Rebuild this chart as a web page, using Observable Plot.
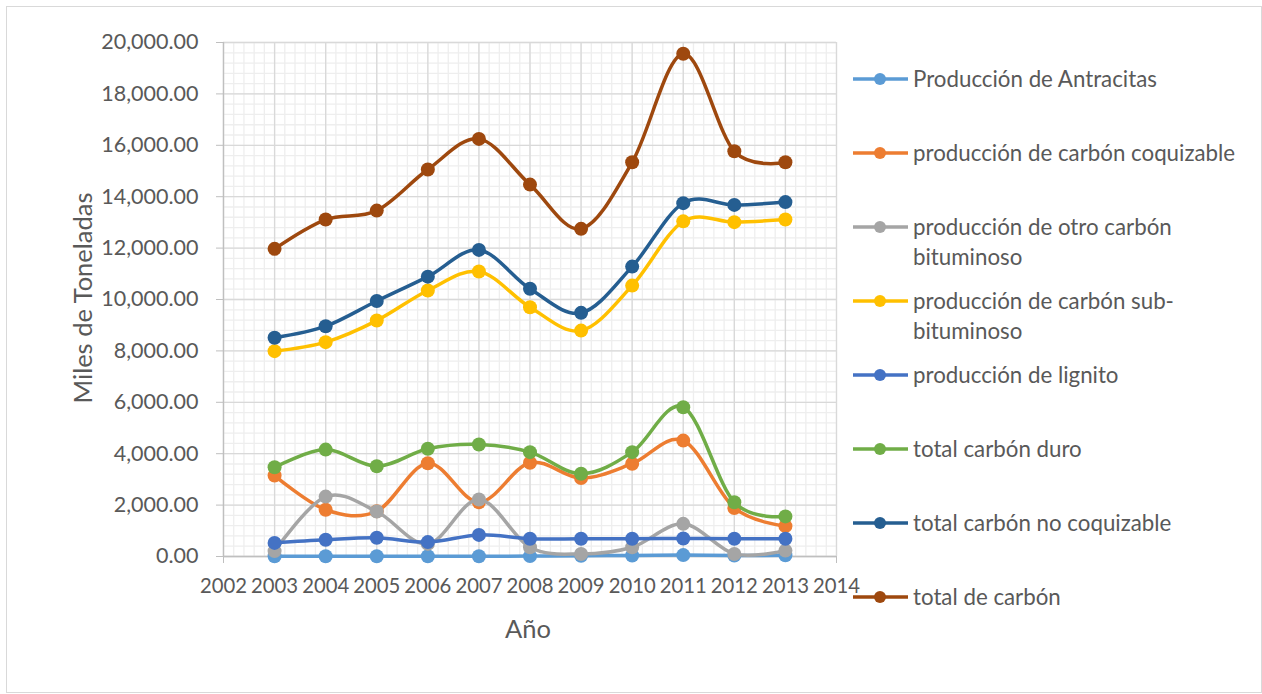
<!DOCTYPE html>
<html>
<head>
<meta charset="utf-8">
<script src="https://cdn.jsdelivr.net/npm/d3@7"></script>
<script src="https://cdn.jsdelivr.net/npm/@observablehq/plot@0.6"></script>
<style>
  html, body { margin: 0; padding: 0; background: #fff; }
  #wrap { position: relative; width: 1262px; height: 694px; font-family: Lato, "Open Sans", sans-serif; color: #595959; }
  #frame { position: absolute; left: 6px; top: 6px; width: 1256px; height: 687px; border: 1px solid #d9d9d9; box-sizing: border-box; pointer-events: none; }
  #chart { position: absolute; left: 0; top: 0; }
  .ytitle { position: absolute; left: 82px; top: 298px; transform: translate(-50%, -50%) rotate(-90deg); font-size: 25.5px; white-space: nowrap; }
  .xtitle { position: absolute; left: 528px; top: 628px; transform: translate(-50%, -50%); font-size: 25.5px; white-space: nowrap; }
  #legend { position: absolute; left: 853px; top: 64px; }
  .item { position: relative; height: 74px; display: flex; align-items: flex-start; }
  .item svg { flex: none; margin-top: 4px; }
  .item span { margin-left: 5px; font-size: 22.3px; line-height: 30px; width: 335px; margin-top: 0px; }
</style>
</head>
<body>
<div id="wrap">
  <div id="chart"></div>
  <div class="ytitle" id="ytitle"></div>
  <div class="xtitle" id="xtitle"></div>
  <div id="legend"></div>
  <div id="frame"></div>
</div>
<script>
// Years of the series
const years = [2003, 2004, 2005, 2006, 2007, 2008, 2009, 2010, 2011, 2012, 2013];

// Coal production, thousand tonnes
const antracitas      = [10, 10, 10, 10, 10, 15, 30, 40, 55, 35, 50];
const coquizable      = [3150, 1820, 1760, 3630, 2110, 3650, 3050, 3610, 4510, 1890, 1180];
const otroBituminoso  = [210, 2330, 1750, 490, 2220, 360, 100, 360, 1270, 100, 230];
const subBituminoso   = [7990, 8340, 9180, 10350, 11090, 9700, 8790, 10540, 13040, 13010, 13110];
const lignito         = [530, 650, 730, 560, 840, 690, 690, 690, 700, 690, 690];
const totalDuro       = [3470, 4160, 3510, 4190, 4360, 4060, 3220, 4060, 5810, 2110, 1560];
const totalNoCoq      = [8510, 8960, 9940, 10890, 11930, 10420, 9480, 11280, 13750, 13680, 13790];
const totalCarbon     = [11970, 13110, 13460, 15060, 16250, 14470, 12750, 15340, 19560, 15770, 15340];

const seriesNames = [
  "Producción de Antracitas",
  "producción de carbón coquizable",
  "producción de otro carbón bituminoso",
  "producción de carbón sub-bituminoso",
  "producción de lignito",
  "total carbón duro",
  "total carbón no coquizable",
  "total de carbón"
];
const seriesValues = [antracitas, coquizable, otroBituminoso, subBituminoso, lignito, totalDuro, totalNoCoq, totalCarbon];
const seriesColors = ["#5B9BD5", "#ED7D31", "#A5A5A5", "#FFC000", "#4472C4", "#70AD47", "#255E91", "#9E480E"];

const xTicks = d3.range(2002, 2015);
const yTicks = d3.range(0, 20001, 2000);
const xTitle = "Año";
const yTitle = "Miles de Toneladas";

// Long table: one row per (series, year)
const rows = seriesNames.map((name, i) =>
  years.map((year, j) => ({ serie: name, year, value: seriesValues[i][j] }))
);

// Each series draws its line and then its markers, in legend order
const seriesMarks = rows.flatMap((data, i) => [
  Plot.line(data, { x: "year", y: "value", stroke: seriesColors[i], strokeWidth: 3.5, curve: "cardinal", tension: 0 }),
  Plot.dot(data, { x: "year", y: "value", fill: seriesColors[i], r: 7 })
]);

const chart = Plot.plot({
  width: 1262,
  height: 694,
  marginLeft: 223,
  marginRight: 426,
  marginTop: 42,
  marginBottom: 138,
  style: { fontFamily: "Lato, 'Open Sans', sans-serif", fontSize: "21px", color: "#595959", background: "transparent", overflow: "visible" },
  x: { domain: [2002, 2014] },
  y: { domain: [0, 20000] },
  marks: [
    // minor grid
    Plot.gridX({ ticks: d3.range(2002, 2014.001, 0.2), stroke: "#eeeeee", strokeOpacity: 1, strokeWidth: 1.3 }),
    Plot.gridY({ ticks: d3.range(0, 20001, 400), stroke: "#eeeeee", strokeOpacity: 1, strokeWidth: 1.3 }),
    // major grid
    Plot.gridX({ ticks: xTicks, stroke: "#d9d9d9", strokeOpacity: 1, strokeWidth: 1.3 }),
    Plot.gridY({ ticks: yTicks, stroke: "#d9d9d9", strokeOpacity: 1, strokeWidth: 1.3 }),
    // axis lines and tick marks
    Plot.ruleY([0], { stroke: "#bfbfbf", strokeWidth: 1.3 }),
    Plot.ruleX([2002], { stroke: "#bfbfbf", strokeWidth: 1.3 }),
    Plot.axisY({ ticks: yTicks, tickSize: 7, text: null, stroke: "#bfbfbf", label: null }),
    Plot.axisX({ ticks: [2002, 2014], tickSize: 7, text: null, stroke: "#bfbfbf", label: null }),
    // tick labels
    Plot.axisY({ ticks: yTicks, tickSize: 0, tickPadding: 25, tickFormat: d3.format(",.2f"), fill: "#595959", label: null, fontSize: 21.5 }),
    Plot.axisX({ ticks: xTicks, tickSize: 0, tickPadding: 22, tickFormat: "d", fill: "#595959", label: null, fontSize: 20.3 }),
    ...seriesMarks
  ]
});
document.getElementById("chart").appendChild(chart);

document.getElementById("xtitle").textContent = xTitle;
document.getElementById("ytitle").textContent = yTitle;

// Legend: line-with-marker swatch and label
const legend = d3.select("#legend");
seriesNames.forEach((name, i) => {
  const item = legend.append("div").attr("class", "item");
  const svg = item.append("svg").attr("width", 55).attr("height", 22);
  svg.append("line").attr("x1", 0).attr("x2", 55).attr("y1", 11).attr("y2", 11)
    .attr("stroke", seriesColors[i]).attr("stroke-width", 3.5);
  svg.append("circle").attr("cx", 27).attr("cy", 11).attr("r", 6).attr("fill", seriesColors[i]);
  item.append("span").text(name);
});
</script>
</body>
</html>
